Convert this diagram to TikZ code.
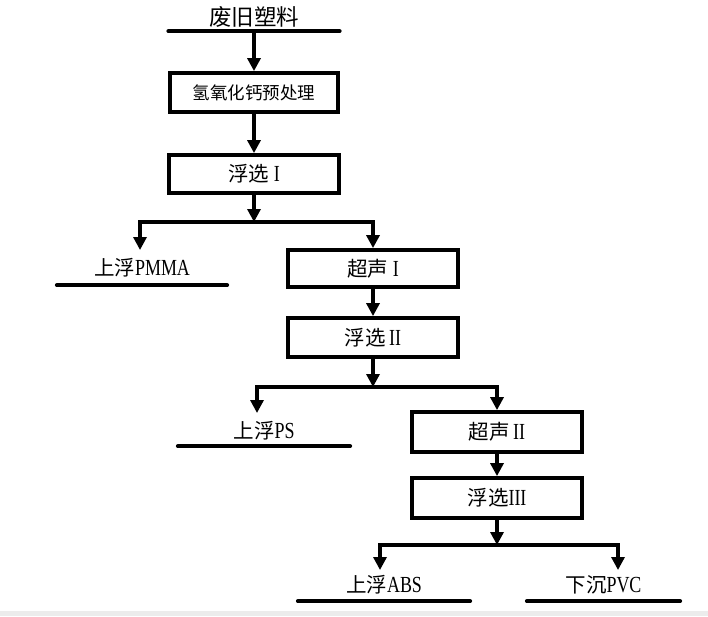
\documentclass[tikz,border=0pt]{standalone}
\usepackage{fontspec}
\setmainfont{Liberation Serif}
\newfontfamily\cjk{Noto Sans CJK SC}
\newfontfamily\latn[FakeStretch=0.78]{Liberation Serif}
\newcommand\latxt[1]{{\latn\fontsize{23}{26}\selectfont #1}}
\usetikzlibrary{arrows.meta}
\begin{document}
\begin{tikzpicture}[x=1pt,y=-1pt,
  stepbox/.style={draw, line width=3.8pt, minimum width=170pt, minimum height=38pt,
    inner sep=0pt, font=\cjk\fontsize{20.5}{24}\selectfont},
  lbl/.style={inner sep=0pt, minimum height=32pt, font=\cjk\fontsize{20.5}{24}\selectfont},
  uline/.style={line width=3.8pt, line cap=round},
  arr/.style={line width=3.2pt, -{Triangle[width=13pt,length=13pt]}}]
\useasboundingbox (0,0) rectangle (708,616);
\fill[gray!15] (0,611) rectangle (708,616);

% source
\node[lbl, minimum width=171pt, minimum height=28pt, font=\cjk\fontsize{22.5}{26}\selectfont] (src) at (254,17) {废旧塑料};
\draw[uline] (src.south west) -- (src.south east);

% main column
\node[stepbox, minimum width=168pt, minimum height=39pt, font=\cjk\fontsize{17.5}{20}\selectfont] (pre) at (254,92.5) {氢氧化钙预处理};
\node[stepbox] (f1) at (254,174) {浮选 \latxt{I}};
\coordinate (j1) at (254,222);

\node[lbl, minimum width=170pt, minimum height=34pt] (pmma) at (142,268) {上浮\latxt{PMMA}};
\draw[uline] (pmma.south west) -- (pmma.south east);
\coordinate (t1) at (140,250);

\node[stepbox, minimum height=37pt] (u1) at (373,268.5) {超声 \latxt{I}};
\node[stepbox, minimum height=39pt] (f2) at (373,337.5) {浮选\,\latxt{II}};
\coordinate (j2) at (373,387);

\node[lbl, minimum width=172pt, minimum height=30pt] (ps) at (264,431) {上浮\latxt{PS}};
\draw[uline] (ps.south west) -- (ps.south east);
\coordinate (t2) at (257,413);

\node[stepbox, minimum height=40pt] (u2) at (497,432) {超声\,\latxt{II}};
\node[stepbox, minimum height=40pt] (f3) at (497,498) {浮选\latxt{III}};
\coordinate (j3) at (497,545);

\node[lbl, minimum width=172pt] (abs) at (384,585) {上浮\latxt{ABS}};
\draw[uline] (abs.south west) -- (abs.south east);
\coordinate (t3) at (380,570);

\node[lbl, minimum width=153pt] (pvc) at (603.5,585) {下沉\latxt{PVC}};
\draw[uline] (pvc.south west) -- (pvc.south east);
\coordinate (t4) at (618,570);

% connectors
\draw[arr] (src.south) -- (pre.north);
\draw[arr] (pre.south) -- (f1.north);
\draw[arr] (f1.south) -- (j1);
\draw[arr] (j1) -| (t1);
\draw[arr] (j1) -| (u1.north);
\draw[arr] (u1.south) -- (f2.north);
\draw[arr] (f2.south) -- (j2);
\draw[arr] (j2) -| (t2);
\draw[arr] (j2) -| (u2.north);
\draw[arr] (u2.south) -- (f3.north);
\draw[arr] (f3.south) -- (j3);
\draw[arr] (j3) -| (t3);
\draw[arr] (j3) -| (t4);
\end{tikzpicture}
\end{document}
